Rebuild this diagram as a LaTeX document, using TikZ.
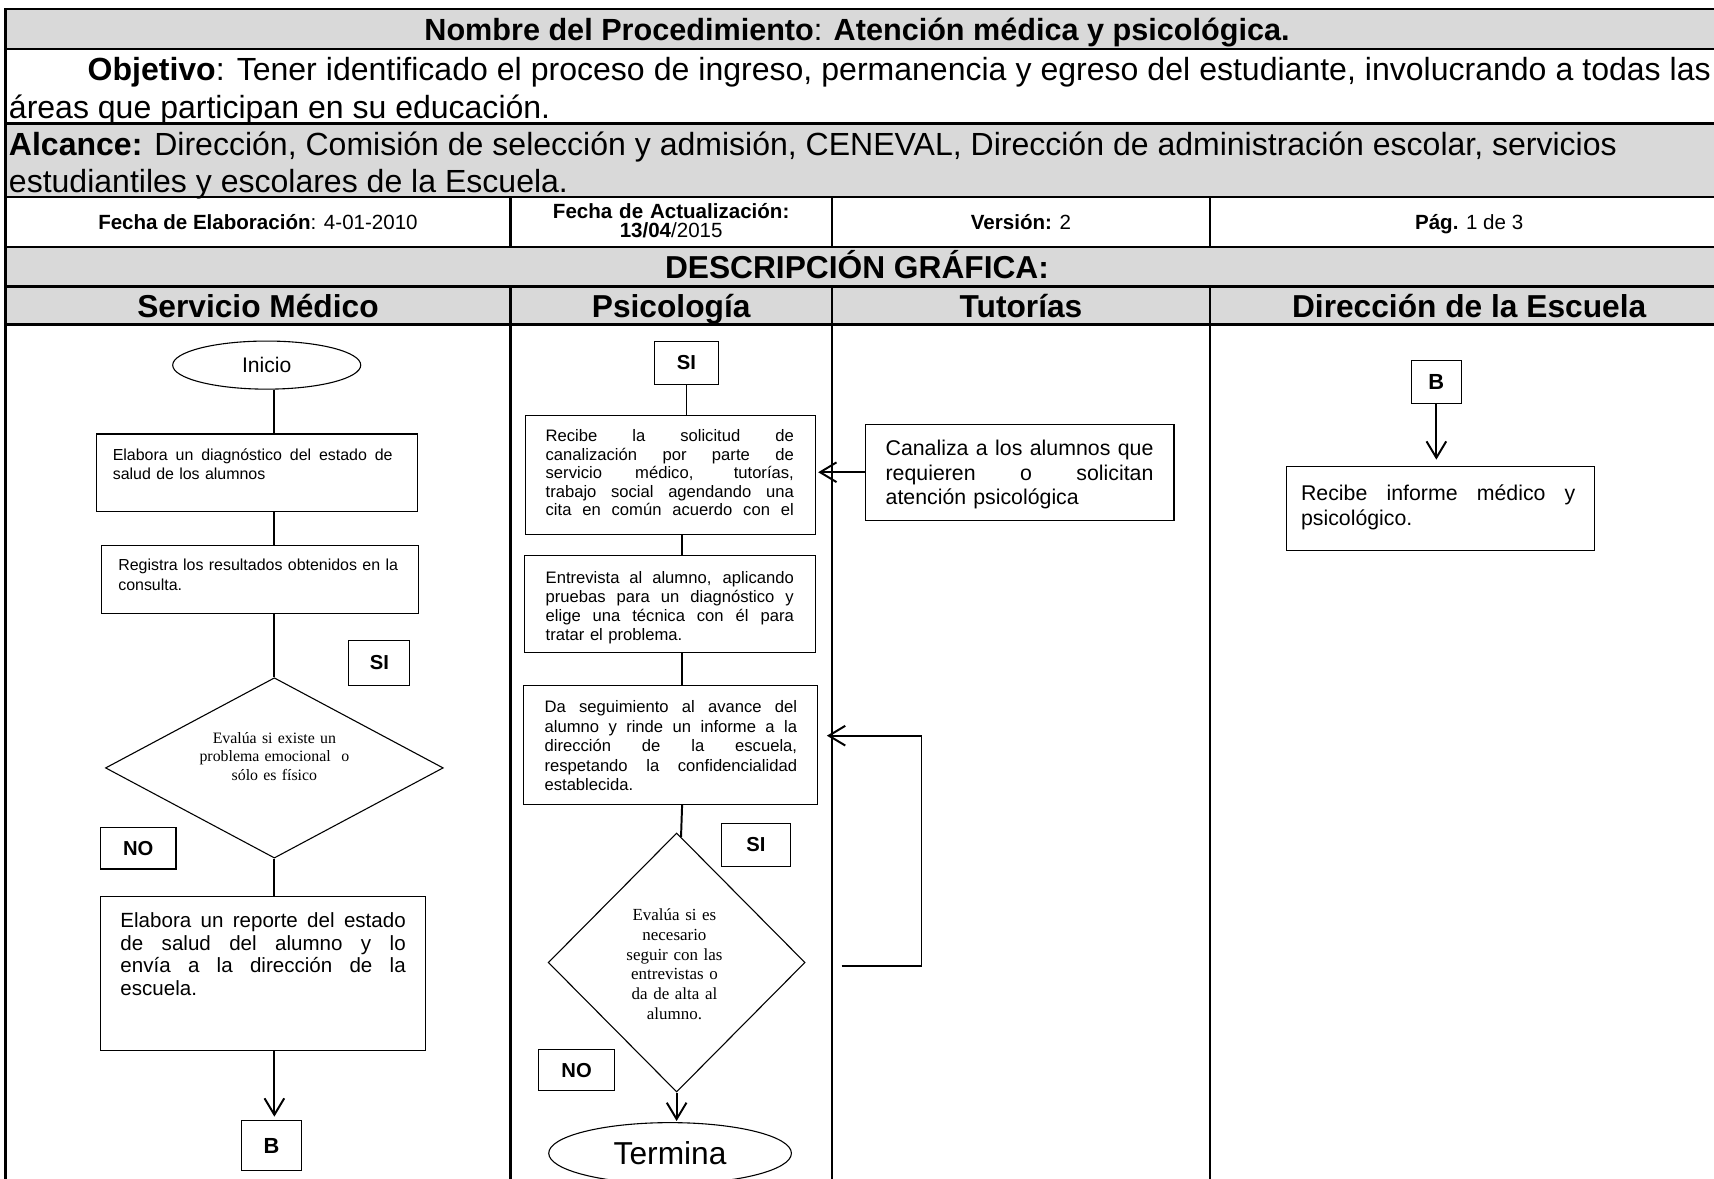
\documentclass[tikz,border=0pt]{standalone}
\usepackage{fontspec}
\setmainfont{Liberation Sans}
\newfontfamily\serifface{Liberation Serif}
\usetikzlibrary{shapes.geometric,arrows.meta,calc}
% line helpers: justified line, and last (flush-left) line of a block
\newlength\tw
\newcommand\jline[1]{{\spaceskip=0pt\xspaceskip=0pt\makebox[\tw][s]{#1}}\\}
\newcommand\jlast[1]{{\spaceskip=0pt\xspaceskip=0pt\makebox[\tw][s]{#1}}}
\newcommand\fline[1]{\makebox[\tw][l]{#1}}
\newcommand\fsz[2]{\fontsize{#1}{#2}\selectfont}
\definecolor{hdrgray}{RGB}{217,217,217}
\tikzset{
  grid/.style={line width=2.2pt},
  lane/.style={line width=2pt},
  proc/.style={draw, line width=1pt, inner sep=0pt},
  tag/.style={draw, line width=1pt, inner sep=0pt, font=\bfseries\fsz{18.5}{20}},
  term/.style={ellipse, draw, line width=1pt, inner sep=0pt},
  dec/.style={diamond, draw, line width=1pt, inner sep=0pt},
  conn/.style={line width=1.8pt},
  arr/.style={line width=1.8pt, -{Straight Barb[length=15pt,width=18pt]}},
  blk/.style={inner sep=0pt, anchor=base west, text width=#1, align=left,
              execute at begin node={\setlength{\tw}{#1}}},
  big/.style={inner sep=0pt, font=\fsz{29.3}{34}},
  hdr/.style={inner sep=0pt, anchor=base, font=\bfseries\fsz{29}{34}},
  cell/.style={inner sep=0pt, anchor=base, font=\fsz{18.8}{19}},
}
\begin{document}
\begin{tikzpicture}[x=1pt,y=-1pt]
\useasboundingbox (0,0) rectangle (1568,1078);
\clip (0,0) rectangle (1568,1078);
\fill[white] (0,0) rectangle (1568,1078);

% ---- header table ----
\fill[hdrgray] (5,8) rectangle (1575,45);
\fill[hdrgray] (5,113) rectangle (1575,180);
\fill[hdrgray] (5,226) rectangle (1575,297);
\draw[grid] (5,1090) -- (5,8) -- (1575,8);
\foreach \y in {45,113,180,226,262,297} \draw[grid] (5,\y) -- (1575,\y);
\foreach \x in {467,761,1107} {
  \draw[lane] (\x,180) -- (\x,226);
  \draw[lane] (\x,262) -- (\x,1090);
}

\node[anchor=base, inner sep=0pt, font=\fsz{28}{34}] (title) at (784,37)
  {\textbf{Nombre del Procedimiento}: \textbf{Atención médica y psicológica.}};
\node[big, anchor=base west] (obj1) at (80,74)
  {\makebox[1485pt][s]{\textbf{Objetivo}: Tener identificado el proceso de ingreso, permanencia y egreso del estudiante, involucrando a todas las}};
\node[big, anchor=base west] (obj2) at (8,108) {áreas que participan en su educación.};
\node[big, anchor=base west] (alc1) at (8,142)
  {\textbf{Alcance:} Dirección, Comisión de selección y admisión, CENEVAL, Dirección de administración escolar, servicios};
\node[big, anchor=base west] (alc2) at (8,176) {estudiantiles y escolares de la Escuela.};

\node[cell] (fel) at (236,209.5) {\textbf{Fecha de Elaboración}: 4-01-2010};
\node[cell, text width=280pt, align=center] (fac) at (614,199.5)
  {\textbf{Fecha de Actualización:}\\[-1pt]\textbf{13/04}/2015};
\node[cell] (ver) at (934,209.5) {\textbf{Versión:} 2};
\node[cell] (pag) at (1344,209.5) {\textbf{Pág.} 1 de 3};

\node[hdr] (desc) at (784,254.5) {DESCRIPCIÓN GRÁFICA:};
\node[hdr] (h1) at (236,290) {Servicio Médico};
\node[hdr] (h2) at (614,290) {Psicología};
\node[hdr] (h3) at (934,290) {Tutorías};
\node[hdr] (h4) at (1344,290) {Dirección de la Escuela};

% ---- lane: Servicio Médico ----
\coordinate (m1) at (251,0);
\node[term, minimum width=172pt, minimum height=44pt, font=\fsz{19.3}{22}] (ini) at (244,334) {Inicio};
\node[proc, minimum width=294pt, minimum height=71pt] (b1) at (235,432.5) {};
\node[blk=256pt, font=\fsz{14.6}{18}] (b1t) at (103,421)
  {\jline{Elabora un diagnóstico del estado de}\fline{salud de los alumnos}};
\node[proc, minimum width=290pt, minimum height=62pt] (b2) at (238,530) {};
\node[blk=256pt, font=\fsz{14.6}{18}] (b2t) at (108,522)
  {\jline{Registra los resultados obtenidos en la}\fline{consulta.}};
\node[tag, minimum width=56pt, minimum height=41pt] (si1) at (347,606.5) {SI};
\node[dec, minimum width=309pt, minimum height=165pt] (d1) at (251,702.5) {};
\node[inner sep=0pt, anchor=base, text width=200pt, align=center,
      font=\serifface\fsz{14.5}{17}] (d1t) at (251,680)
  {Evalúa si existe un\\problema emocional\ \ o\\sólo es físico};
\node[tag, minimum width=69pt, minimum height=38pt] (no1) at (126.5,776) {NO};
\node[proc, minimum width=297pt, minimum height=141pt] (b3) at (240.5,890.5) {};
\node[blk=261pt, font=\fsz{18.8}{20.8}] (b3t) at (110,848.5)
  {\jline{Elabora un reporte del estado}\jline{de salud del alumno y lo}\jline{envía a la dirección de la}\fline{escuela.}};
\node[tag, minimum width=55pt, minimum height=46pt, font=\bfseries\fsz{20}{22}] (B1) at (248.5,1048) {B};

\draw[conn] (ini.south -| m1) -- (b1.north -| m1);
\draw[conn] (b1.south -| m1) -- (b2.north -| m1);
\draw[conn] (b2.south -| m1) -- (d1.north);
\draw[conn] (d1.south) -- (b3.north -| d1.south);
\draw[arr, shorten >=3pt] (b3.south -| m1) -- (B1.north -| m1);

% ---- lane: Psicología ----
\coordinate (m2) at (624,0);
\node[tag, minimum width=58pt, minimum height=40pt] (si2) at (628,332) {SI};
\node[proc, minimum width=265pt, minimum height=109pt] (b4) at (613.5,434.5) {};
\node[blk=227pt, font=\fsz{15.2}{17}] (b4t) at (499,404)
  {\jline{Recibe la solicitud de}\jline{canalización por parte de}\jline{servicio médico, tutorías,}\jline{trabajo social agendando una}\jlast{cita en común acuerdo con el}};
\node[proc, minimum width=266pt, minimum height=89pt] (b5) at (613,552.5) {};
\node[blk=227pt, font=\fsz{15.2}{17.3}] (b5t) at (499,534)
  {\jline{Entrevista al alumno, aplicando}\jline{pruebas para un diagnóstico y}\jline{elige una técnica con él para}\fline{tratar el problema.}};
\node[proc, minimum width=269pt, minimum height=109pt] (b6) at (613.5,681.5) {};
\node[blk=231pt, font=\fsz{15.2}{17.8}] (b6t) at (498,652)
  {\jline{Da seguimiento al avance del}\jline{alumno y rinde un informe a la}\jline{dirección de la escuela,}\jline{respetando la confidencialidad}\fline{establecida.}};
\node[tag, minimum width=63pt, minimum height=40pt] (si3) at (691.5,773) {SI};
\node[dec, minimum width=235pt, minimum height=237pt] (d2) at (619,880.5) {};
\node[inner sep=0pt, anchor=base, text width=150pt, align=center,
      font=\serifface\fsz{15.5}{18}] (d2t) at (617,842.5)
  {Evalúa si es\\necesario\\seguir con las\\entrevistas o\\da de alta al\\alumno.};
\node[tag, minimum width=69pt, minimum height=38pt] (no2) at (527.5,979) {NO};
\node[term, minimum width=222pt, minimum height=56pt, font=\fsz{29}{32}] (term) at (613,1055) {Termina};

\draw[conn] (si2.south) -- (b4.north -| si2.south);
\draw[conn] (b4.south -| m2) -- (b5.north -| m2);
\draw[conn] (b5.south -| m2) -- (b6.north -| m2);
\draw[conn] (b6.south -| m2) -- (d2.88);
\draw[arr, shorten >=1pt] (d2.south) -- (d2.south |- term.north);
\coordinate (lpa) at (770,884);
\coordinate (lpb) at (843,673);
\draw[arr] (lpa) -| (lpb) -- ($(b6.east |- lpb)+(8,0)$);

% ---- lane: Tutorías ----
\node[proc, minimum width=282pt, minimum height=88pt] (b7) at (933,432) {};
\node[blk=245pt, font=\fsz{19.5}{22.3}] (b7t) at (810,417)
  {\jline{Canaliza a los alumnos que}\jline{requieren o solicitan}\fline{atención psicológica}};
\draw[arr] (b7.west) -- ($(b7.west -| b4.east)+(2,0)$);

% ---- lane: Dirección de la Escuela ----
\node[tag, minimum width=46pt, minimum height=39pt, font=\bfseries\fsz{20}{22}] (B2) at (1314,349.5) {B};
\node[proc, minimum width=282pt, minimum height=77pt] (b8) at (1318,465.5) {};
\node[blk=251pt, font=\fsz{19.5}{23}] (b8t) at (1190,458)
  {\jline{Recibe informe médico y}\fline{psicológico.}};
\draw[arr, shorten >=6pt] (B2.south) -- (B2.south |- b8.north);
\end{tikzpicture}
\end{document}
